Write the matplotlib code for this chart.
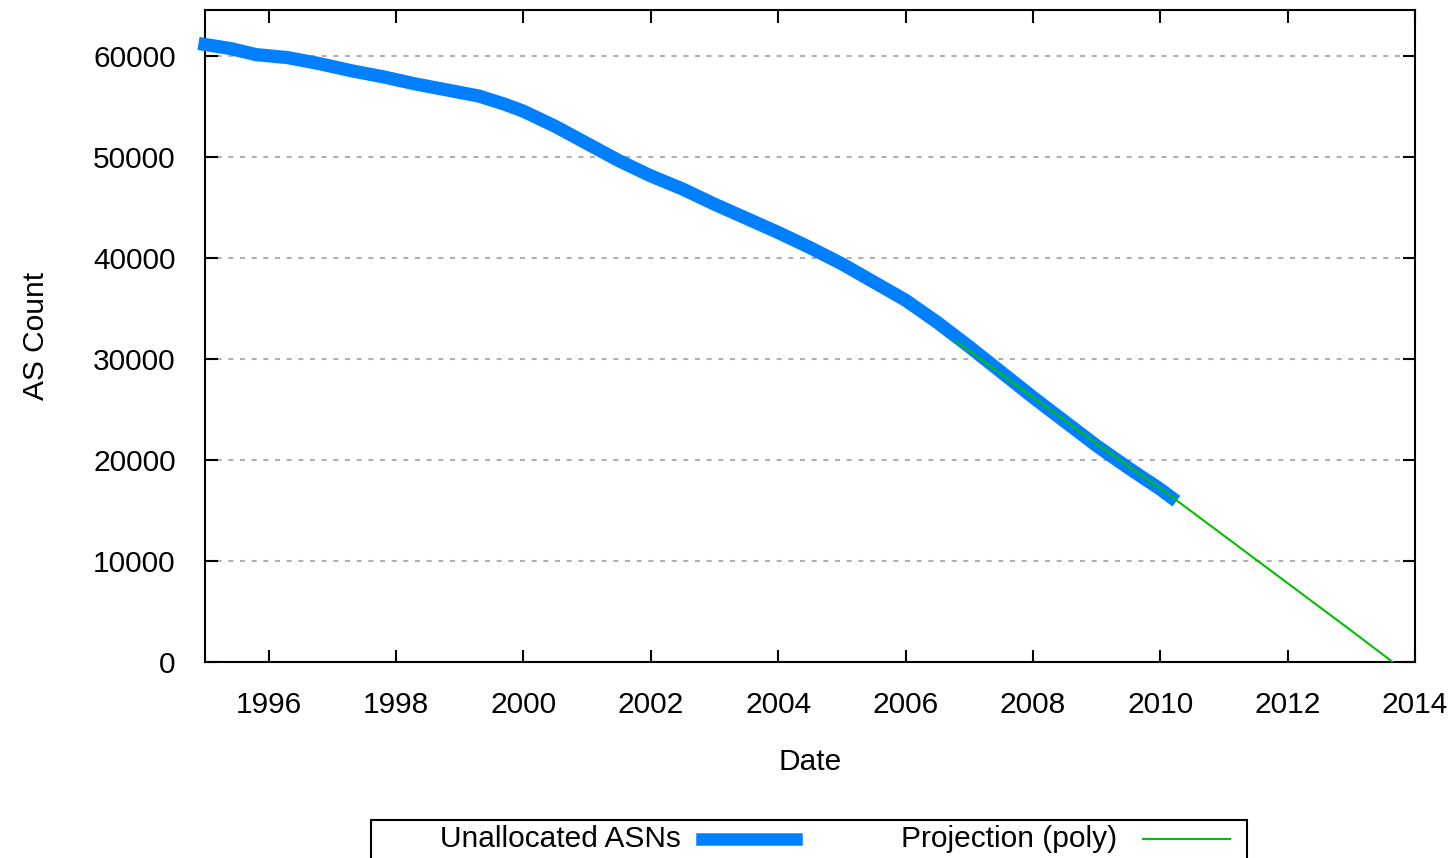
import matplotlib
matplotlib.use('Agg')
import matplotlib.pyplot as plt
from matplotlib.lines import Line2D
from matplotlib.patches import Rectangle

plt.rcParams['font.family'] = ['Liberation Sans', 'DejaVu Sans']

# Unallocated 16-bit ASNs over time
years = [1995.0, 1995.4, 1995.8, 1996.3, 1996.8, 1997.3, 1997.8, 1998.3, 1998.8,
         1999.3, 1999.7, 2000.0, 2000.5, 2001.0, 2001.5, 2002.0, 2002.5, 2003.0,
         2003.5, 2004.0, 2004.5, 2005.0, 2005.5, 2006.0, 2006.5, 2007.0, 2007.5,
         2008.0, 2008.5, 2009.0, 2009.5, 2010.0, 2010.17]
unallocated = [61100, 60700, 60100, 59800, 59200, 58500, 57900, 57200, 56600,
               56000, 55200, 54500, 53000, 51300, 49600, 48100, 46800, 45300,
               43900, 42500, 41000, 39400, 37600, 35800, 33600, 31200, 28700,
               26200, 23800, 21400, 19200, 17100, 16300]

# polynomial projection
proj_years = [2006.8, 2008.0, 2009.0, 2010.17, 2011.0, 2012.0, 2013.0, 2013.65]
projection = [31700, 26200, 21600, 16400, 12500, 7800, 3100, 0]

x_ticks = list(range(1996, 2015, 2))
y_ticks = list(range(0, 60001, 10000))

blue = '#0080ff'
green = '#00c000'
fs = 21.5

fig = plt.figure(figsize=(14.56, 8.58), dpi=100)
ax = fig.add_axes([205 / 1456, 1 - 662 / 858, 1210 / 1456, 652 / 858])

ax.plot(years, unallocated, color=blue, lw=9.5, solid_capstyle='projecting',
        solid_joinstyle='miter', clip_on=False, zorder=3)
ax.plot(proj_years, projection, color=green, lw=1.5, zorder=4)

ax.set_xlim(1995, 2014)
ax.set_ylim(0, 64512)
ax.set_xticks(x_ticks)
ax.set_yticks(y_ticks)
ax.set_xticklabels([str(t) for t in x_ticks])
ax.set_yticklabels([str(t) for t in y_ticks])

ax.tick_params(direction='in', length=9, width=1.5, labelsize=fs,
               top=True, right=True, colors='black')
ax.tick_params(axis='y', pad=21)
ax.tick_params(axis='x', pad=21)
for s in ax.spines.values():
    s.set_linewidth(1.5)
    s.set_color('black')

ax.yaxis.grid(True, color='#b0b0b0', lw=1.5, linestyle=(0, (2.4, 3.2)))
ax.set_axisbelow(True)

ax.set_xlabel('Date', fontsize=fs, labelpad=21)
ax.set_ylabel('AS Count', fontsize=fs, labelpad=31)

# legend box along the bottom, text first then sample (gnuplot style)
fig.patches.append(Rectangle((371 / 1456, -0.02), 876 / 1456, 0.02 + 38 / 858,
                             transform=fig.transFigure, fill=False,
                             edgecolor='black', lw=1.5))
ly = 1 - 839 / 858
fig.text(681 / 1456, ly, 'Unallocated ASNs', ha='right', va='center', fontsize=fs)
fig.lines.append(Line2D([702 / 1456, 796 / 1456], [ly, ly], color=blue, lw=9,
                        transform=fig.transFigure))
fig.text(1117 / 1456, ly, 'Projection (poly)', ha='right', va='center', fontsize=fs)
fig.lines.append(Line2D([1143 / 1456, 1230 / 1456], [ly, ly], color=green, lw=1.5,
                        transform=fig.transFigure))

fig.savefig('out.png', dpi=100)
